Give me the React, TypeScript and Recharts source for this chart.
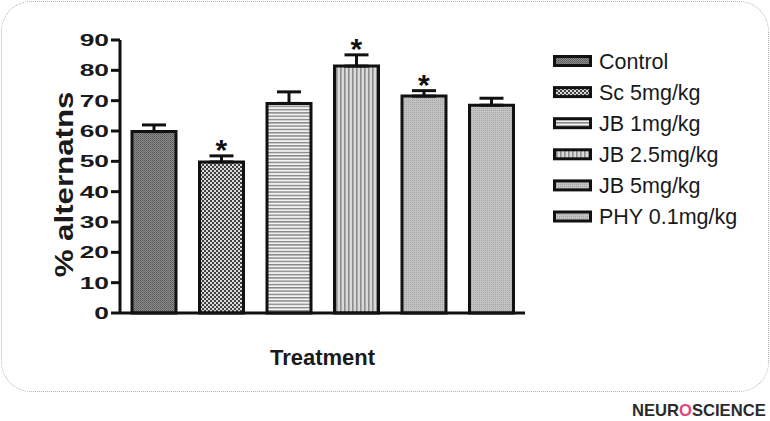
import { type ReactNode } from "react";
import { BarChart, Bar, Cell, ErrorBar, XAxis, YAxis, ReferenceDot, Label } from "recharts";

// Values (mean ± SEM, % alternations)
const groups = ["Control", "Sc 5mg/kg", "JB 1mg/kg", "JB 2.5mg/kg", "JB 5mg/kg", "PHY 0.1mg/kg"];
const means = [59.8, 49.8, 69.1, 81.4, 71.5, 68.5];
const sems = [2.2, 2.0, 3.8, 3.7, 1.8, 2.3];
const significant = [false, true, false, true, true, false];
const yTicks = [0, 10, 20, 30, 40, 50, 60, 70, 80, 90];

const FONT = '"Liberation Sans", Arial, sans-serif';

const rows = groups.map((g, i) => ({ name: g, value: means[i], err: [0, sems[i]] }));

// GraphPad-style fill patterns, one per group. Prefix keeps ids unique per svg.
function patternDefs(prefix: string): ReactNode {
  return (
    <defs>
      <pattern id={`${prefix}0`} width={2} height={2} patternUnits="userSpaceOnUse">
        <rect width={2} height={2} fill="#8a8a8a" />
        <rect width={1} height={1} fill="#5a5a5a" />
        <rect x={1} y={1} width={1} height={1} fill="#6a6a6a" />
      </pattern>
      <pattern id={`${prefix}1`} width={4} height={4} patternUnits="userSpaceOnUse">
        <rect width={4} height={4} fill="#404040" />
        <rect width={2} height={2} fill="#dadada" />
        <rect x={2} y={2} width={2} height={2} fill="#dadada" />
      </pattern>
      <pattern id={`${prefix}2`} width={4} height={3.3} patternUnits="userSpaceOnUse">
        <rect width={4} height={3.3} fill="#f2f2f2" />
        <rect width={4} height={1.4} fill="#858585" />
      </pattern>
      <pattern id={`${prefix}3`} width={4} height={4} patternUnits="userSpaceOnUse">
        <rect width={4} height={4} fill="#dadada" />
        <rect width={1.6} height={4} fill="#8c8c8c" />
      </pattern>
      <pattern id={`${prefix}4`} width={2} height={2} patternUnits="userSpaceOnUse">
        <rect width={2} height={2} fill="#c2c2c2" />
        <rect width={1} height={1} fill="#a4a4a4" />
      </pattern>
      <pattern id={`${prefix}5`} width={2} height={2} patternUnits="userSpaceOnUse">
        <rect width={2} height={2} fill="#c4c4c4" />
        <rect x={1} width={1} height={1} fill="#a2a2a2" />
      </pattern>
    </defs>
  );
}

// Tick labels in the figure are wide bold digits
function YTick(props: any) {
  const { x, y, payload } = props;
  return (
    <text
      transform={`translate(${x},${y}) scale(1.6,1)`}
      textAnchor="end" dy="0.36em" fontFamily={FONT} fontWeight="bold" fontSize={16.5} fill="#1a1a1a"
    >
      {payload.value}
    </text>
  );
}

// significance star sitting just above the error-bar cap
function StarMark(props: any) {
  const vb = props.viewBox || {};
  const cx = vb.x + (vb.width || 0) / 2;
  const cy = vb.y + (vb.height || 0) / 2;
  return (
    <text x={cx} y={cy + 4} textAnchor="middle" fontFamily={FONT} fontWeight="bold" fontSize={30} fill="#111">
      *
    </text>
  );
}

function YLabel(props: any) {
  const vb = props.viewBox || {};
  const cy = vb.y + vb.height / 2 + 8;
  return (
    <text
      transform={`translate(73,${cy}) rotate(-90) scale(1.25,1)`}
      textAnchor="middle" fontFamily={FONT} fontWeight="bold" fontSize={25} fill="#1a1a1a"
    >
      % alternatns
    </text>
  );
}

function XLabel(props: any) {
  const vb = props.viewBox || {};
  return (
    <text
      x={vb.x + vb.width / 2} y={vb.y + 52} textAnchor="middle"
      fontFamily={FONT} fontWeight="bold" fontSize={22} fill="#1a1a1a"
    >
      Treatment
    </text>
  );
}

const LEGEND_TOP = 61;
const LEGEND_STEP = 31.1;

export default function App() {
  return (
    <div style={{ position: "absolute", left: 0, top: 0, width: 770, height: 421, background: "#fff", overflow: "hidden" }}>
      <div
        style={{
          position: "absolute", left: 1, top: 1, width: 768, height: 391, boxSizing: "border-box",
          border: "1px dotted #b4b4b4", borderRadius: 30,
        }}
      />
      <div style={{ position: "absolute", left: 0, top: 0 }}>
        <BarChart width={770} height={421} data={rows} margin={{ top: 40, right: 245, bottom: 0, left: 0 }}>
          {patternDefs("bar")}
          <XAxis
            dataKey="name" type="category" height={108} tick={false} tickLine={false}
            axisLine={{ stroke: "#111", strokeWidth: 3 }}
          >
            <Label content={<XLabel />} />
          </XAxis>
          <YAxis
            width={120} domain={[0, 90]} ticks={yTicks} interval={0} tickSize={9} tickMargin={2}
            tick={<YTick />} tickLine={{ stroke: "#111", strokeWidth: 3 }}
            axisLine={{ stroke: "#111", strokeWidth: 3 }}
          >
            <Label content={<YLabel />} />
          </YAxis>
          <Bar dataKey="value" barSize={44} stroke="#111" strokeWidth={3} isAnimationActive={false}>
            {rows.map((_, i) => <Cell key={i} fill={`url(#bar${i})`} />)}
            <ErrorBar dataKey="err" width={12} stroke="#111" strokeWidth={3} direction="y" />
          </Bar>
          {groups.map((g, i) =>
            significant[i] ? (
              <ReferenceDot
                key={g} x={g} y={means[i] + sems[i]} r={0} fill="none" stroke="none"
                label={<StarMark />}
              />
            ) : null
          )}
        </BarChart>
      </div>
      <svg width={770} height={421} style={{ position: "absolute", left: 0, top: 0, pointerEvents: "none" }}>
        {patternDefs("leg")}
        {groups.map((g, i) => {
          const cy = LEGEND_TOP + i * LEGEND_STEP;
          return (
            <g key={g}>
              <rect x={554.5} y={cy - 4.5} width={36} height={9} fill={`url(#leg${i})`} stroke="#111" strokeWidth={3} />
              <text x={599} y={cy + 7.5} fontFamily={FONT} fontSize={21.5} fill="#1a1a1a">{g}</text>
            </g>
          );
        })}
        <text x={632} y={416} fontFamily={FONT} fontWeight="bold" fontSize={16.6} fill="#2b2b2b">
          NEUR<tspan fill="#e0457b">O</tspan>SCIENCE
        </text>
      </svg>
    </div>
  );
}
